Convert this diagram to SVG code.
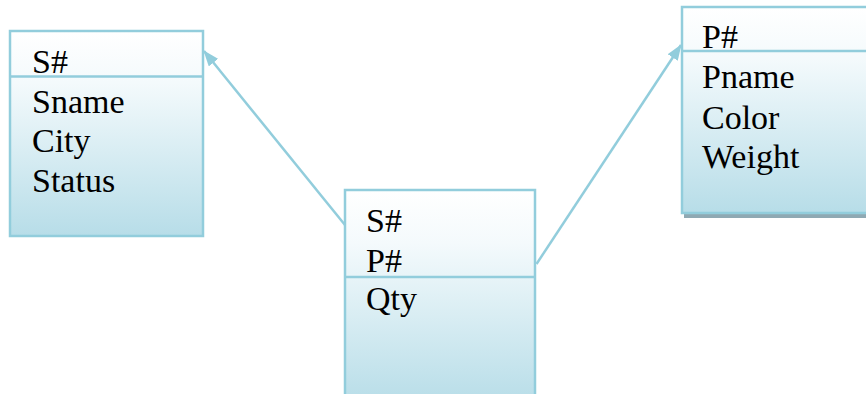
<svg xmlns="http://www.w3.org/2000/svg" width="866" height="394" viewBox="0 0 866 394">
  <defs>
    <linearGradient id="g" x1="0" y1="0" x2="0" y2="1">
      <stop offset="0" stop-color="#FFFFFF"/>
      <stop offset="0.25" stop-color="#F4FAFC"/>
      <stop offset="1" stop-color="#B7DDE8"/>
    </linearGradient>
    <marker id="arr" viewBox="0 0 16 12" refX="15" refY="6" markerWidth="16" markerHeight="12" markerUnits="userSpaceOnUse" orient="auto">
      <path d="M0,0 L16,6 L0,12 Z" fill="#92CDDC"/>
    </marker>
  </defs>
  <style>
    .box { fill: url(#g); stroke: #92CDDC; stroke-width: 2.5; }
    .div { stroke: #92CDDC; stroke-width: 2.5; fill: none; }
    .t { font-family: "Liberation Serif", "Times New Roman", serif; font-size: 34px; fill: #000; }
    .conn { stroke: #92CDDC; stroke-width: 2.5; fill: none; }
  </style>
  <rect width="866" height="394" fill="#FFFFFF"/>

  <g id="suppliers">
    <rect class="box" x="10" y="31" width="193" height="205"/>
    <line class="div" x1="10" y1="76.5" x2="203" y2="76.5"/>
    <text class="t" x="32" y="73">S#</text>
    <text class="t" x="32" y="113">Sname</text>
    <text class="t" x="32" y="152">City</text>
    <text class="t" x="32" y="192">Status</text>
  </g>

  <g id="shipments">
    <rect class="box" x="345" y="190" width="190" height="215"/>
    <line class="div" x1="345" y1="277" x2="535" y2="277"/>
    <text class="t" x="366" y="232">S#</text>
    <text class="t" x="366" y="272">P#</text>
    <text class="t" x="366" y="310">Qty</text>
  </g>

  <g id="parts">
    <rect x="684" y="12" width="190" height="206" fill="#8FA9B3"/>
    <rect class="box" x="682" y="7" width="190" height="206"/>
    <line class="div" x1="682" y1="51" x2="872" y2="51"/>
    <text class="t" x="702" y="48">P#</text>
    <text class="t" x="702" y="88">Pname</text>
    <text class="t" x="702" y="129">Color</text>
    <text class="t" x="702" y="168">Weight</text>
  </g>

  <g id="connectors">
    <line class="conn" x1="345" y1="225" x2="204" y2="51" marker-end="url(#arr)"/>
    <line class="conn" x1="536.5" y1="264" x2="681" y2="45" marker-end="url(#arr)"/>
  </g>
</svg>
